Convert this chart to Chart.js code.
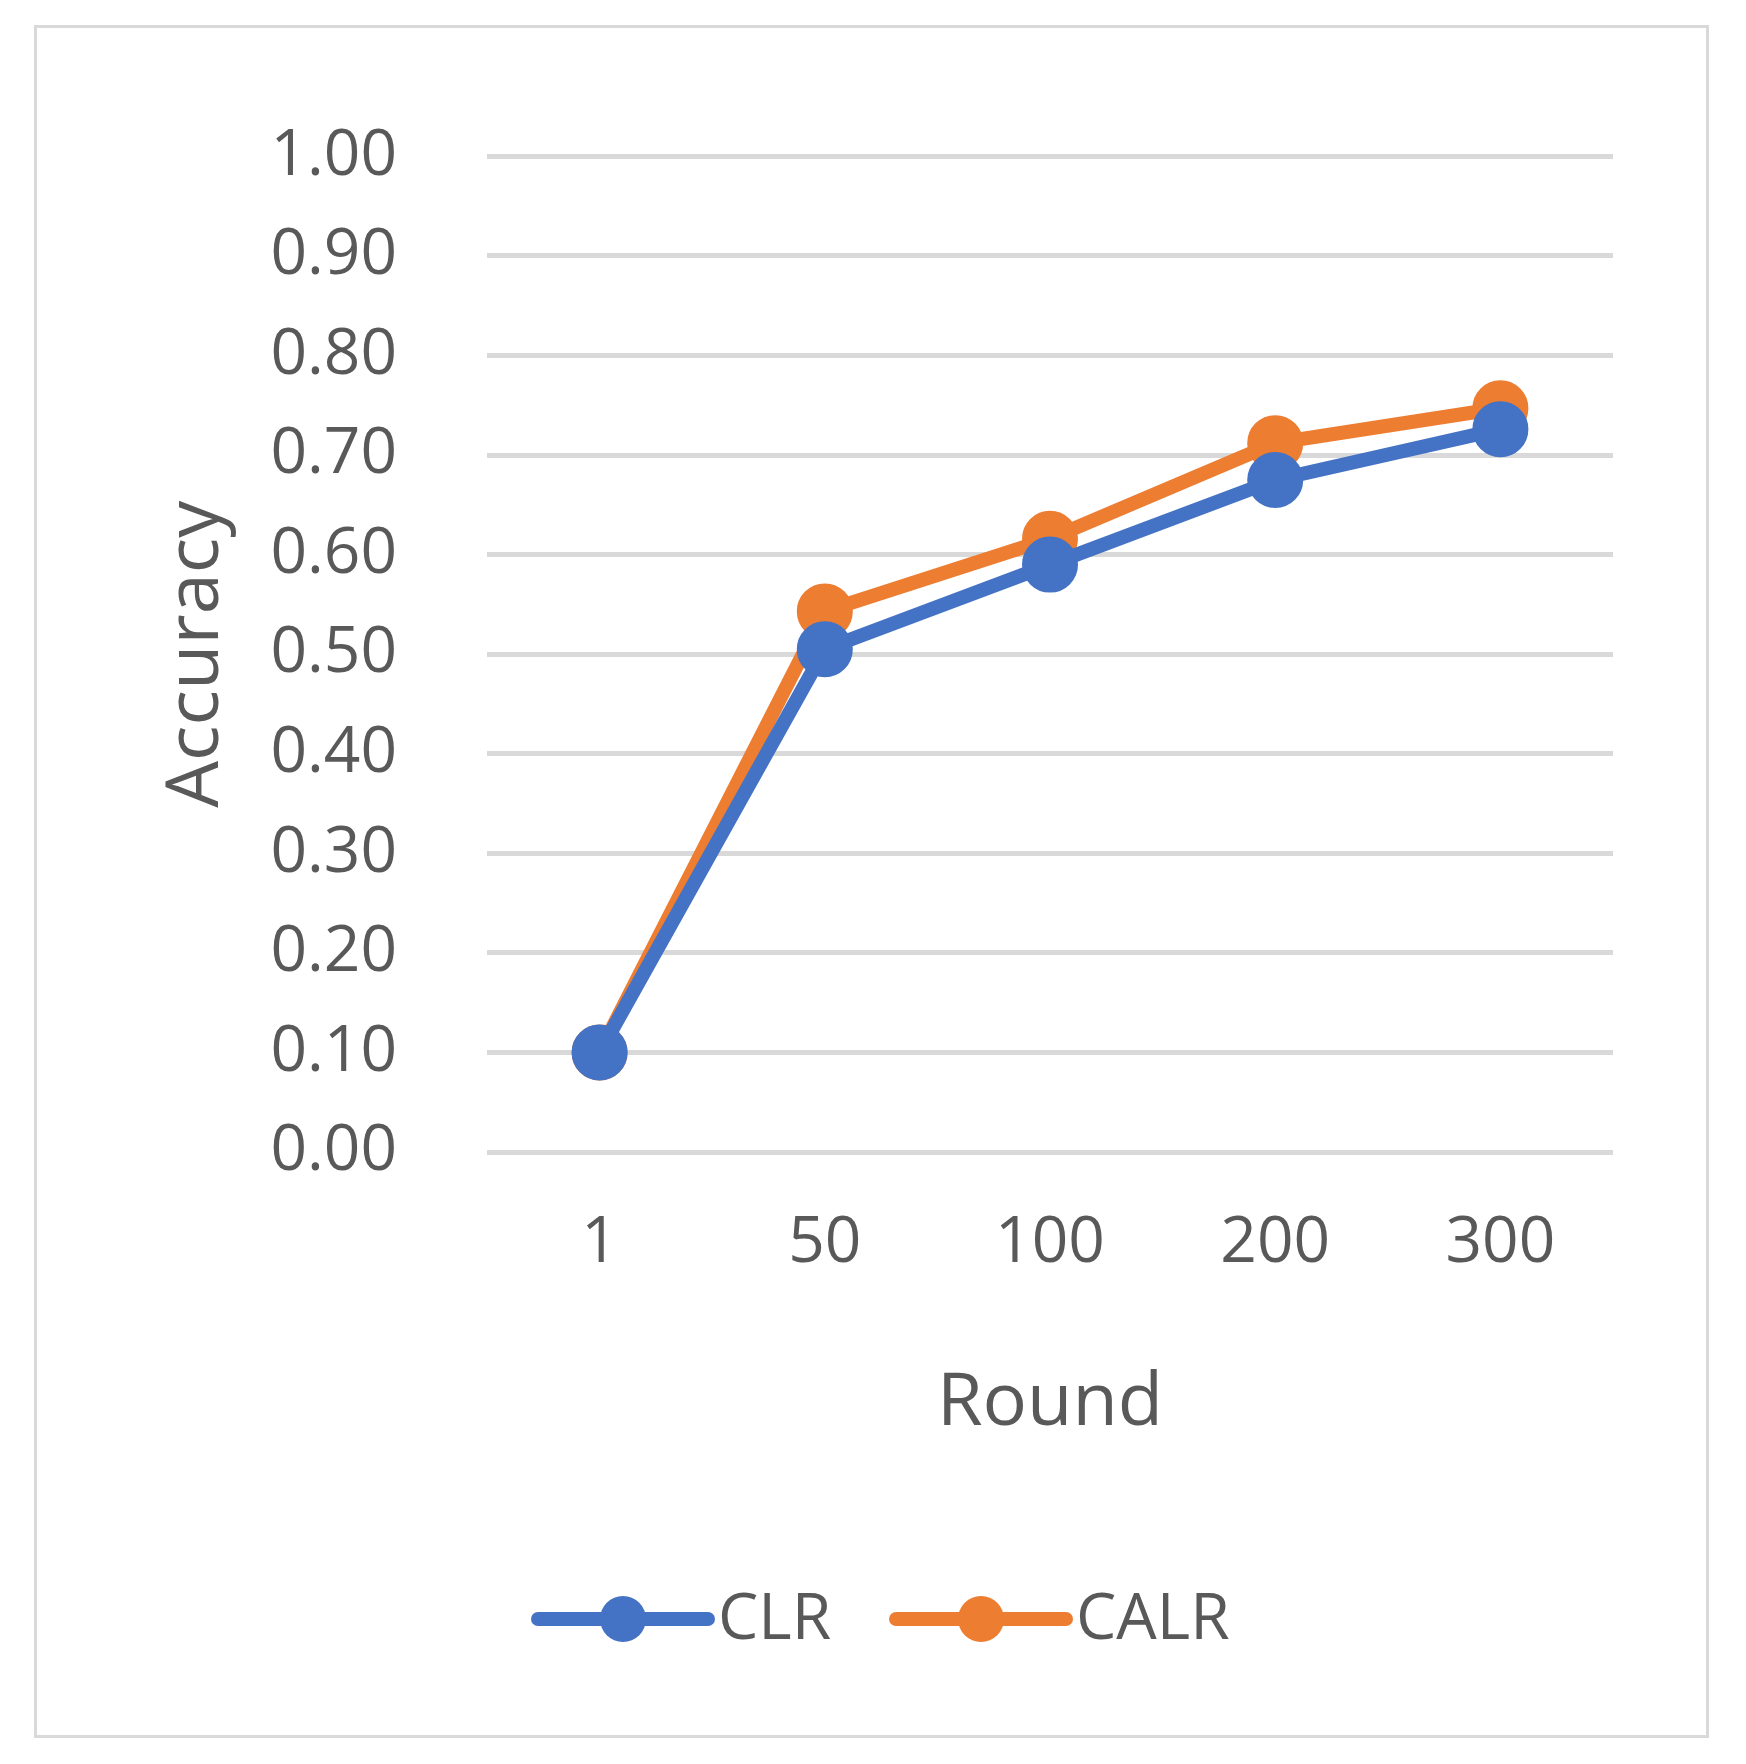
<!DOCTYPE html>
<html>
<head>
<meta charset="utf-8">
<script src="https://cdn.jsdelivr.net/npm/chart.js@4"></script>
<style>
  body { margin: 0; background: #fff; }
  #box { position: absolute; left: 34px; top: 25px; width: 1669px; height: 1707px; border: 3px solid #d9d9d9; }
</style>
</head>
<body>
<div id="box"><canvas id="chart" width="1669" height="1707"></canvas></div>
<script>
const rounds = ['1', '50', '100', '200', '300'];
const clrValues = [0.10, 0.505, 0.59, 0.675, 0.726];
const calrValues = [0.10, 0.543, 0.616, 0.712, 0.747];
const yTicks = [0, 0.1, 0.2, 0.3, 0.4, 0.5, 0.6, 0.7, 0.8, 0.9, 1.0];

const FONT = "'Open Sans', 'Noto Sans', sans-serif";
const TEXT = '#595959';

// leyenda dibujada a mano: línea con círculo
const legendPlugin = {
  id: 'lineLegend',
  afterDraw(chart) {
    const ctx = chart.ctx;
    const y = 1591;
    const items = [{ x: 501 }, { x: 859 }];
    chart.data.datasets.forEach((ds, i) => {
      const x = items[i].x;
      ctx.save();
      ctx.strokeStyle = ds.borderColor;
      ctx.lineWidth = 14;
      ctx.lineCap = 'round';
      ctx.beginPath();
      ctx.moveTo(x, y);
      ctx.lineTo(x + 170, y);
      ctx.stroke();
      ctx.fillStyle = ds.borderColor;
      ctx.beginPath();
      ctx.arc(x + 85, y, 23, 0, Math.PI * 2);
      ctx.fill();
      ctx.fillStyle = TEXT;
      ctx.font = '64px ' + FONT;
      ctx.textBaseline = 'middle';
      ctx.fillText(ds.label, x + 180, y + 2);
      ctx.restore();
    });
  }
};

new Chart(document.getElementById('chart'), {
  type: 'line',
  data: {
    labels: rounds,
    datasets: [
      { label: 'CLR', data: clrValues, borderColor: '#4472c4', backgroundColor: '#4472c4', borderWidth: 14, pointRadius: 21, pointHoverRadius: 21 },
      { label: 'CALR', data: calrValues, borderColor: '#ed7d31', backgroundColor: '#ed7d31', borderWidth: 14, pointRadius: 21, pointHoverRadius: 21 }
    ]
  },
  options: {
    responsive: false,
    devicePixelRatio: 1,
    animation: false,
    layout: { padding: { left: 112, right: 93, top: 64, bottom: 283 } },
    plugins: { legend: { display: false }, tooltip: { enabled: false } },
    scales: {
      x: {
        offset: true,
        grid: { display: false },
        border: { display: false },
        ticks: { color: TEXT, font: { size: 64, family: FONT }, padding: 45 },
        title: { display: true, text: 'Round', color: TEXT, font: { size: 74, family: FONT }, padding: { top: 20 } },
        afterFit(scale) { scale.height = 300; }
      },
      y: {
        min: 0,
        max: 1,
        afterBuildTicks(scale) { scale.ticks = yTicks.map(v => ({ value: v })); },
        grid: { color: '#d9d9d9', lineWidth: 5, drawTicks: false },
        border: { display: false },
        ticks: { color: TEXT, font: { size: 64, family: FONT }, padding: 90, callback: v => v.toFixed(2) },
        title: { display: true, text: 'Accuracy', color: TEXT, font: { size: 74, family: FONT }, padding: { bottom: 10 } },
        afterFit(scale) { scale.width = 338; }
      }
    }
  },
  plugins: [legendPlugin]
});
</script>
</body>
</html>
